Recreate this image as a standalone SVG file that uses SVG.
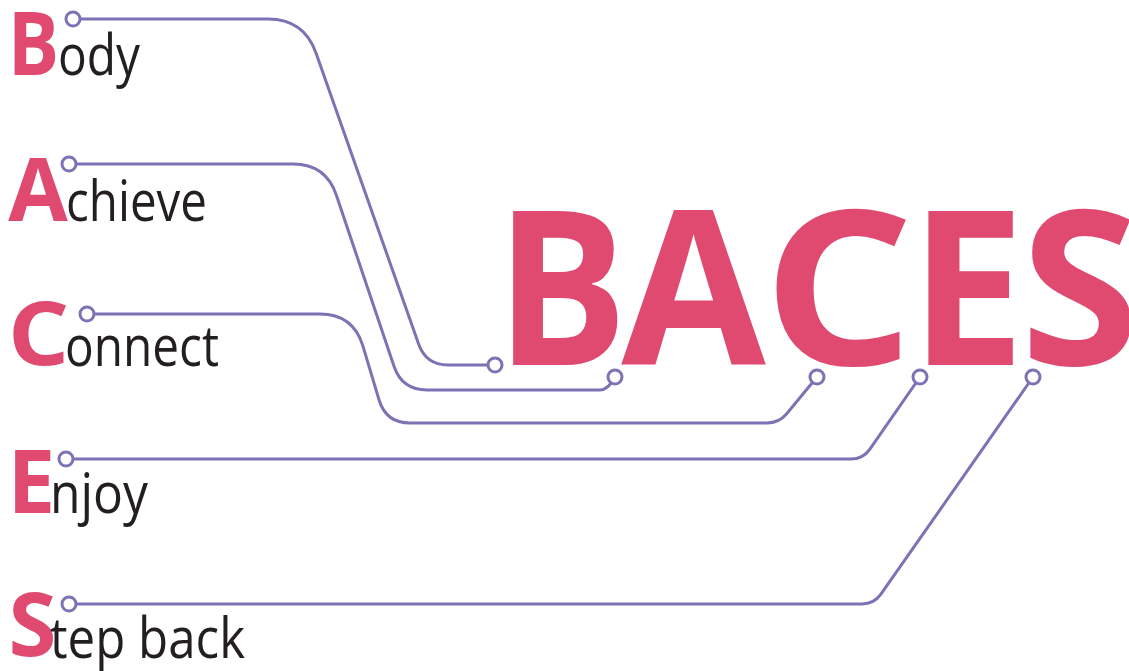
<svg xmlns="http://www.w3.org/2000/svg" width="1129" height="671" viewBox="0 0 1129 671">
<style>
.ini{font-family:"Open Sans","Noto Sans",sans-serif;font-weight:700;font-size:88px;fill:#e04a70;text-anchor:middle}
.rest{font-family:"Open Sans","Noto Sans",sans-serif;font-weight:400;font-size:56px;fill:#231f20}
.big{font-family:"Open Sans","Noto Sans",sans-serif;font-weight:700;font-size:216px;fill:#e04a70;text-anchor:middle}
.ln{fill:none;stroke:#7d72b4;stroke-width:3;stroke-linecap:round;stroke-linejoin:round}
.dot{fill:#fff;stroke:#7d72b4;stroke-width:3}
</style>
<rect width="1129" height="671" fill="#fff"/>
<g id="connectors">
<path class="ln" d="M73,19 H268 Q304,19 316,53 L418.7,344.3 Q426,365 448,365 H495"/>
<path class="ln" d="M69,164 H293 Q326,164 336.4,195.3 L394,366.3 Q402,390 427,390 H600 Q608,390 615,377"/>
<path class="ln" d="M87,314 H320 Q353,314 362.8,345.6 L379.1,400 Q386,423 410,423 H767 Q779,423 786.7,413.8 L817,377"/>
<path class="ln" d="M66,459 H851 Q863,459 869.9,449.1 L920,377"/>
<path class="ln" d="M69,604 H862 Q874,604 880.9,594.2 L1033,377"/>
<circle class="dot" cx="73" cy="19" r="7"/>
<circle class="dot" cx="69" cy="164" r="7"/>
<circle class="dot" cx="87" cy="314" r="7"/>
<circle class="dot" cx="66" cy="459" r="7"/>
<circle class="dot" cx="69" cy="604" r="7"/>
<circle class="dot" cx="495" cy="365" r="7"/>
<circle class="dot" cx="615" cy="377" r="7"/>
<circle class="dot" cx="817" cy="377" r="7"/>
<circle class="dot" cx="920" cy="377" r="7"/>
<circle class="dot" cx="1033" cy="377" r="7"/>
</g>
<g id="baces">
<text class="big" transform="translate(561.5,365) scale(0.91,1)">B</text>
<text class="big" transform="translate(693.5,365) scale(0.97,1)">A</text>
<text class="big" transform="translate(838.5,365) scale(1.1,1)">C</text>
<text class="big" transform="translate(967.5,365) scale(0.95,1)">E</text>
<text class="big" transform="translate(1080,365) scale(1,1)">S</text>
</g>
<g id="label-body">
<text class="ini" transform="translate(33.5,75) scale(0.87,1)">B</text>
<text class="rest" x="58" y="75" textLength="82" lengthAdjust="spacingAndGlyphs">ody</text>
</g>
<g id="label-achieve">
<text class="ini" transform="translate(38,221) scale(0.98,1)">A</text>
<text class="rest" x="66" y="221" textLength="141" lengthAdjust="spacingAndGlyphs">chieve</text>
</g>
<g id="label-connect">
<text class="ini" transform="translate(38.5,365) scale(1.1,1)">C</text>
<text class="rest" x="65" y="366" textLength="154" lengthAdjust="spacingAndGlyphs">onnect</text>
</g>
<g id="label-enjoy">
<text class="ini" transform="translate(31.5,513) scale(0.97,1)">E</text>
<text class="rest" x="50" y="513" textLength="98" lengthAdjust="spacingAndGlyphs">njoy</text>
</g>
<g id="label-stepback">
<text class="ini" transform="translate(32.5,656) scale(0.99,1)">S</text>
<text class="rest" x="50" y="658" textLength="195" lengthAdjust="spacingAndGlyphs">tep back</text>
</g>
</svg>
